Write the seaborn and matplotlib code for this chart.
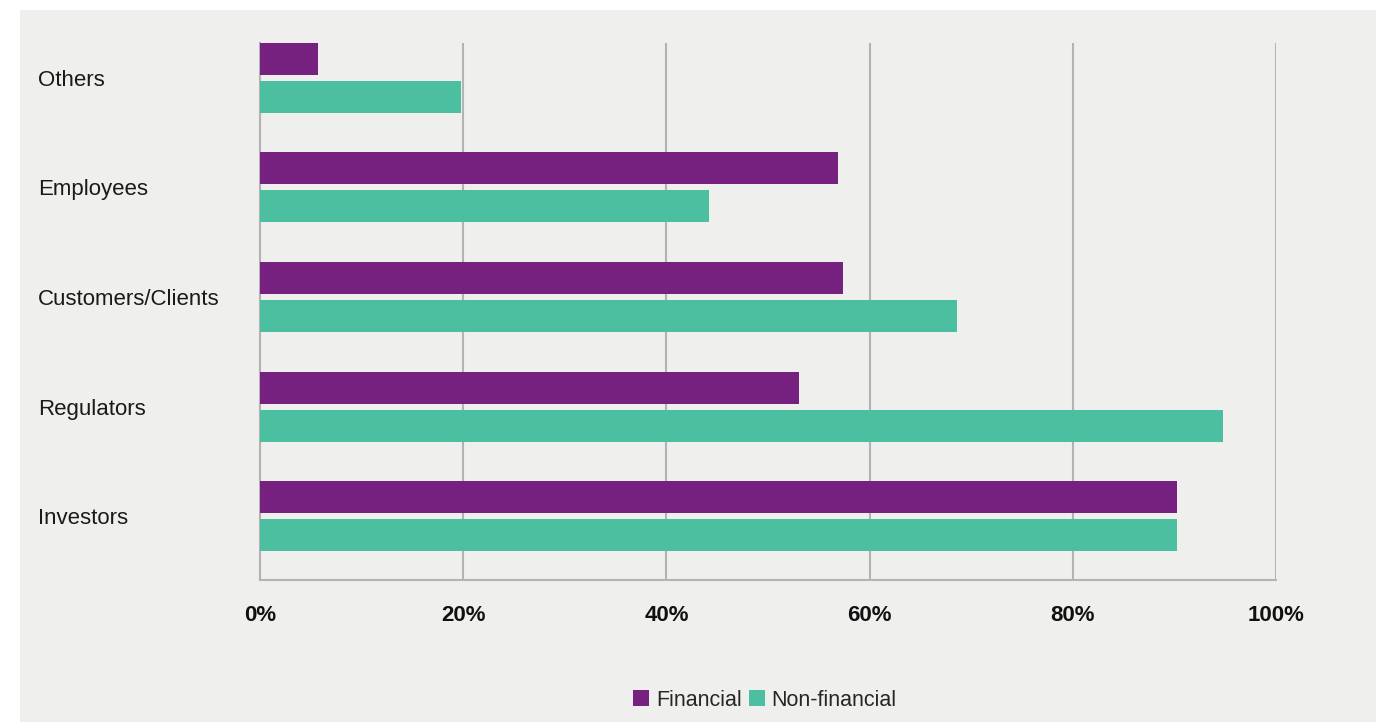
import matplotlib
matplotlib.use("Agg")
import matplotlib.pyplot as plt
from matplotlib.patches import Rectangle, Patch
import seaborn as sns
import pandas as pd

categories = ["Others", "Employees", "Customers/Clients", "Regulators", "Investors"]
financial = [5.7, 56.9, 57.4, 53.1, 90.3]
non_financial = [19.8, 44.2, 68.6, 94.8, 90.3]
series_names = ["Financial", "Non-financial"]
x_ticks = [0, 20, 40, 60, 80, 100]
x_tick_labels = ["0%", "20%", "40%", "60%", "80%", "100%"]

PURPLE = "#76217F"
TEAL = "#4CBFA0"
BG = "#EFF0ED"
GRID = "#B3B3B3"

df = pd.DataFrame({
    "category": categories * 2,
    "value": financial + non_financial,
    "sector": [series_names[0]] * len(categories) + [series_names[1]] * len(categories),
})

sns.set_theme(style="white")
plt.rcParams["font.family"] = ["Liberation Sans", "DejaVu Sans"]

W, H = 1376, 722
fig = plt.figure(figsize=(W / 100, H / 100), dpi=100, facecolor="white")
bg_rect = Rectangle((20 / W, 0), (W - 20) / W, (H - 10) / H,
                    transform=fig.transFigure, facecolor=BG,
                    edgecolor="none", zorder=-10)
fig.add_artist(bg_rect)

ax = fig.add_axes([260 / W, 1 - 580 / H, (1276 - 260) / W, (580 - 43) / H])
ax.set_facecolor(BG)
ax.patch.set_alpha(0)

sns.barplot(data=df, y="category", x="value", hue="sector", orient="h",
            order=categories, hue_order=series_names,
            palette=[PURPLE, TEAL], saturation=1, width=0.693, gap=0.158,
            linewidth=0, errorbar=None, legend=False, ax=ax, zorder=3)

ax.set_xlim(0, 100)
ax.set_ylim(4.581, -0.318)
ax.set_xticks(x_ticks)
ax.set_xticklabels(x_tick_labels, fontsize=16, fontweight="bold", color="#111111")
ax.tick_params(axis="x", length=0, pad=18)
ax.tick_params(axis="y", length=0, pad=160)
for lab in ax.get_yticklabels():
    lab.set_horizontalalignment("left")
    lab.set_fontsize(16)
    lab.set_color("#1a1a1a")

ax.set_xlabel("")
ax.set_ylabel("")
ax.grid(axis="x", color=GRID, linewidth=1.5, zorder=0)
ax.grid(axis="y", visible=False)
ax.set_axisbelow(True)
for s in ["top", "right"]:
    ax.spines[s].set_visible(False)
for s in ["left", "bottom"]:
    ax.spines[s].set_color(GRID)
    ax.spines[s].set_linewidth(1.5)
    ax.spines[s].set_zorder(1)

handles = [Patch(facecolor=PURPLE, edgecolor="none"), Patch(facecolor=TEAL, edgecolor="none")]
fig.legend(handles, series_names, loc="center", bbox_to_anchor=(765 / W, 1 - 700 / H),
           ncol=2, frameon=False, fontsize=15.5, handlelength=0.75, handleheight=0.75,
           handletextpad=0.3, columnspacing=0.35, borderaxespad=0)

fig.savefig("out.png", dpi=100, facecolor="white")
